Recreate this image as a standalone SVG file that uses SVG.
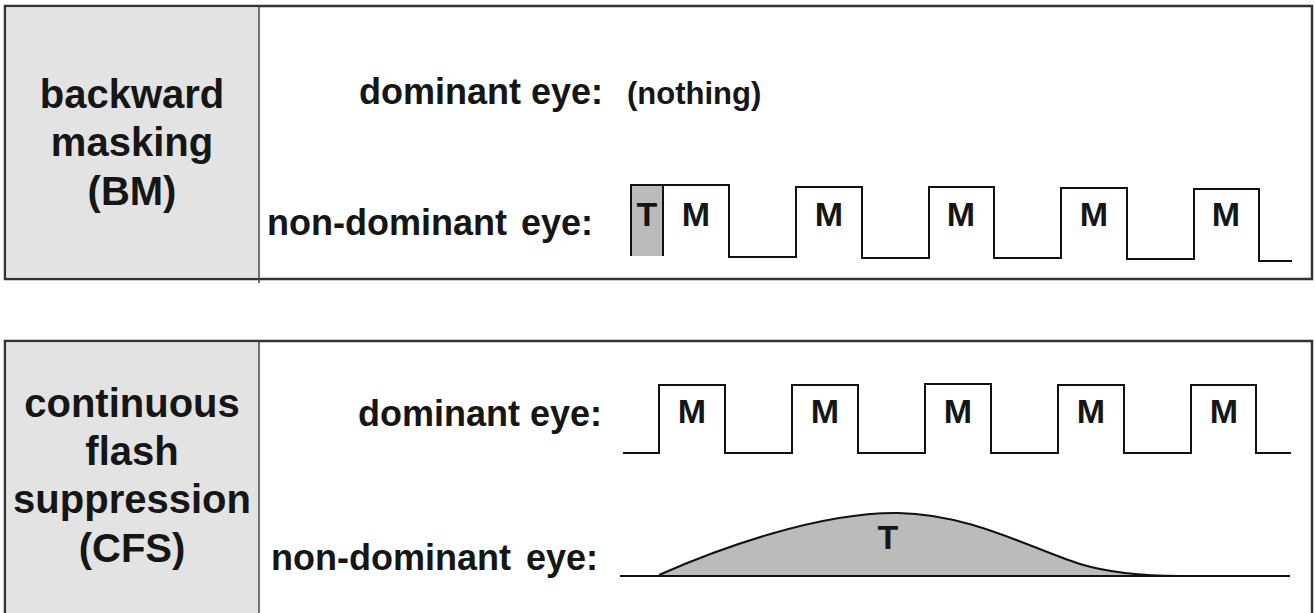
<svg xmlns="http://www.w3.org/2000/svg" width="1315" height="613" viewBox="0 0 1315 613">
<style>
.frame{fill:#ffffff;stroke:#333333;stroke-width:2.5}
.side{fill:#e3e3e3;stroke:none}
.div{stroke:#444444;stroke-width:1.5}
.lbl{font-family:"Liberation Sans",Arial,sans-serif;font-weight:bold;font-size:40px;fill:#161616;text-anchor:middle}
.eye{font-family:"Liberation Sans",Arial,sans-serif;font-weight:bold;font-size:36px;fill:#161616;text-anchor:end}
.sm{font-family:"Liberation Sans",Arial,sans-serif;font-weight:bold;font-size:31px;fill:#161616}
.m{font-family:"Liberation Sans",Arial,sans-serif;font-weight:bold;font-size:34px;fill:#161616;text-anchor:middle}
.wave{fill:none;stroke:#111111;stroke-width:2}
.tfill{fill:#bbbbbb}
</style>
<rect width="1315" height="613" fill="#ffffff"/>
<g id="panel-bm">
<rect class="frame" x="5" y="6" width="1307" height="273"/>
<rect class="side" x="6.5" y="7.5" width="252" height="270"/>
<line class="div" x1="259" y1="7" x2="259" y2="283"/>
<text class="lbl" x="132" y="108">backward</text>
<text class="lbl" x="132" y="156">masking</text>
<text class="lbl" x="132" y="205">(BM)</text>
<text class="eye" x="603" y="104">dominant eye:</text>
<text class="sm" x="627" y="104">(nothing)</text>
<text class="eye" x="593" y="235" word-spacing="4">non-dominant eye:</text>
</g>
<g id="panel-cfs">
<rect class="frame" x="5" y="341" width="1307" height="290"/>
<rect class="side" x="6.5" y="342.5" width="252" height="280"/>
<line class="div" x1="259" y1="342" x2="259" y2="613"/>
<text class="lbl" x="132" y="417">continuous</text>
<text class="lbl" x="132" y="465">flash</text>
<text class="lbl" x="132" y="513">suppression</text>
<text class="lbl" x="132" y="562">(CFS)</text>
<text class="eye" x="602" y="426">dominant eye:</text>
<text class="eye" x="598" y="570" word-spacing="5">non-dominant eye:</text>
</g>
<g id="connectors">
<g id="bm-wave">
<rect class="tfill" x="631" y="185" width="32" height="71"/>
<polyline class="wave" points="631,256 631,185 729,185 729,257 796,257 796,187 862,187 862,258 929,258 929,187 994,187 994,258 1061,258 1061,188 1127,188 1127,259 1194,259 1194,189 1259,189 1259,261 1292,261"/>
<line class="wave" x1="663" y1="185" x2="663" y2="256"/>
<text class="m" x="647" y="226">T</text>
<text class="m" x="696" y="226">M</text>
<text class="m" x="829" y="226">M</text>
<text class="m" x="961" y="226">M</text>
<text class="m" x="1094" y="226">M</text>
<text class="m" x="1226" y="226">M</text>
</g>
<g id="cfs-dominant">
<polyline class="wave" points="623,453 659,453 659,385 725,385 725,453 792,453 792,385 858,385 858,453 925,453 925,384 991,384 991,453 1058,453 1058,385 1124,385 1124,453 1191,453 1191,385 1256,385 1256,453 1291,453"/>
<text class="m" x="692" y="423">M</text>
<text class="m" x="825" y="423">M</text>
<text class="m" x="958" y="423">M</text>
<text class="m" x="1091" y="423">M</text>
<text class="m" x="1224" y="423">M</text>
</g>
<g id="cfs-nondominant">
<path class="tfill" d="M659,575 C720,548 820,512 898,513 C970,514 1030,548 1080,564 C1110,573 1140,576 1180,576 Z"/>
<path class="wave" d="M659,575 C720,548 820,512 898,513 C970,514 1030,548 1080,564 C1110,573 1140,576 1180,576"/>
<line class="wave" x1="620" y1="576" x2="1290" y2="576"/>
<text class="m" x="888" y="549">T</text>
</g>
</g>
</svg>
